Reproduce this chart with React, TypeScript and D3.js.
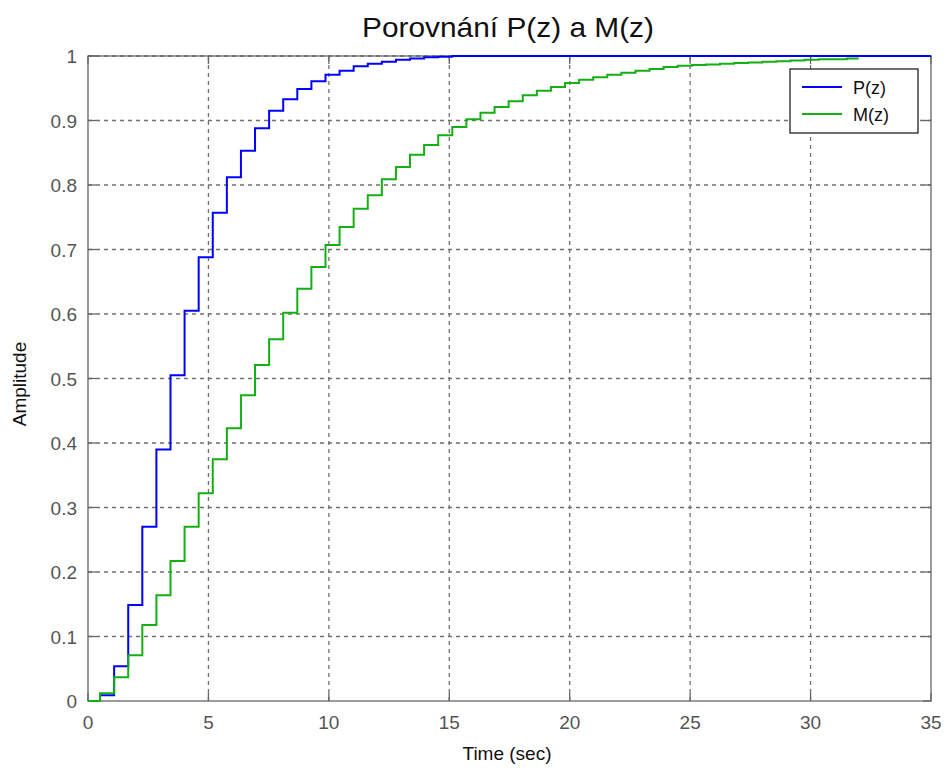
import React from "react";
import * as d3 from "d3";

const TITLE = "Porovnání P(z) a M(z)";
const X_LABEL = "Time (sec)";
const Y_LABEL = "Amplitude";
const X_TICKS = [0, 5, 10, 15, 20, 25, 30, 35];
const Y_TICKS = [0, 0.1, 0.2, 0.3, 0.4, 0.5, 0.6, 0.7, 0.8, 0.9, 1];

// sample timing of the discrete responses
const T_START = 0.5;
const T_STEP = 0.585;

const P_VALUES = [
  0, 0.009, 0.054, 0.149, 0.27, 0.39, 0.505, 0.605, 0.688, 0.757, 0.812, 0.853,
  0.888, 0.915, 0.933, 0.949, 0.961, 0.971, 0.977, 0.984, 0.988, 0.991, 0.994,
  0.996, 0.998, 0.999, 1.0,
];
const P_END = 35;

const M_VALUES = [
  0, 0.012, 0.037, 0.071, 0.118, 0.164, 0.217, 0.27, 0.322, 0.375, 0.423, 0.474,
  0.521, 0.561, 0.602, 0.639, 0.673, 0.707, 0.735, 0.763, 0.784, 0.809, 0.828,
  0.847, 0.862, 0.877, 0.89, 0.902, 0.912, 0.921, 0.93, 0.939, 0.946, 0.952,
  0.958, 0.963, 0.967, 0.971, 0.974, 0.977, 0.98, 0.983, 0.985, 0.986, 0.987,
  0.988, 0.989, 0.99, 0.991, 0.992, 0.993, 0.994, 0.995, 0.995, 0.996,
];
const M_END = 32;

const SERIES = [
  { name: "P(z)", values: P_VALUES, end: P_END, color: "#0000ff" },
  { name: "M(z)", values: M_VALUES, end: M_END, color: "#12b012" },
];

const W = 946;
const H = 769;
const L = 88;
const R = 931;
const T = 56;
const B = 701;
const FONT = "'Liberation Sans', Arial, sans-serif";

function stepPoints(values: number[], end: number): [number, number][] {
  const pts: [number, number][] = [[0, values[0]]];
  for (let k = 1; k < values.length; k++) {
    const t = T_START + (k - 1) * T_STEP;
    if (t > end) break;
    pts.push([t, values[k]]);
  }
  pts.push([end, values[values.length - 1]]);
  return pts;
}

export default function App() {
  const x = d3.scaleLinear().domain([0, 35]).range([L, R]);
  const y = d3.scaleLinear().domain([0, 1]).range([B, T]);
  const line = d3
    .line<[number, number]>()
    .x((d) => x(d[0]))
    .y((d) => y(d[1]))
    .curve(d3.curveStepAfter);

  const fmtY = (v: number) => (v === 0 || v === 1 ? String(v) : d3.format(".1f")(v));

  return (
    <svg
      width={W}
      height={H}
      style={{ position: "absolute", left: 0, top: 0, background: "#fff" }}
      fontFamily={FONT}
    >
      <rect x={0} y={0} width={W} height={H} fill="#fff" />
      <rect x={L} y={T} width={R - L} height={B - T} fill="#fff" />
      <defs>
        <clipPath id="plotclip">
          <rect x={L} y={T - 2} width={R - L} height={B - T + 4} />
        </clipPath>
      </defs>
      {/* grid */}
      <g stroke="#707070" strokeWidth={1.3} strokeDasharray="4,4">
        {X_TICKS.slice(1, -1).map((t) => (
          <line key={"gx" + t} x1={x(t)} x2={x(t)} y1={B} y2={T} />
        ))}
        {Y_TICKS.slice(1).map((t) => (
          <line key={"gy" + t} x1={L} x2={R} y1={y(t)} y2={y(t)} />
        ))}
      </g>
      {/* frame */}
      <rect x={L} y={T} width={R - L} height={B - T} fill="none" stroke="#666" strokeWidth={1.3} />
      {/* ticks */}
      <g stroke="#666" strokeWidth={1.3}>
        {X_TICKS.map((t) => (
          <g key={"tx" + t}>
            <line x1={x(t)} x2={x(t)} y1={B} y2={B - 8} />
            <line x1={x(t)} x2={x(t)} y1={T} y2={T + 8} />
          </g>
        ))}
        {Y_TICKS.map((t) => (
          <g key={"ty" + t}>
            <line x1={L} x2={L + 8} y1={y(t)} y2={y(t)} />
            <line x1={R} x2={R - 8} y1={y(t)} y2={y(t)} />
          </g>
        ))}
      </g>
      {/* tick labels */}
      <g fontSize={19} fill="#555">
        {X_TICKS.map((t) => (
          <text key={"lx" + t} x={x(t)} y={729} textAnchor="middle">
            {t}
          </text>
        ))}
        {Y_TICKS.map((t) => (
          <text key={"ly" + t} x={L - 11} y={y(t) + 7} textAnchor="end">
            {fmtY(t)}
          </text>
        ))}
      </g>
      {/* series */}
      <g clipPath="url(#plotclip)">
        {SERIES.map((s) => (
          <path
            key={s.name}
            d={line(stepPoints(s.values, s.end)) || ""}
            fill="none"
            stroke={s.color}
            strokeWidth={2}
          />
        ))}
      </g>
      {/* title and labels */}
      <text
        x={508}
        y={37}
        textAnchor="middle"
        fontSize={28}
        fill="#111"
        textLength={292}
        lengthAdjust="spacingAndGlyphs"
      >
        {TITLE}
      </text>
      <text x={507} y={760} textAnchor="middle" fontSize={19} fill="#111">
        {X_LABEL}
      </text>
      <text
        transform={`translate(26, 384) rotate(-90)`}
        textAnchor="middle"
        fontSize={19}
        fill="#111"
      >
        {Y_LABEL}
      </text>
      {/* legend */}
      <g>
        <rect x={790} y={69} width={128} height={64} fill="#fff" stroke="#222" strokeWidth={1.3} />
        {SERIES.map((s, i) => (
          <g key={"leg" + s.name}>
            <line x1={802} x2={842} y1={87 + i * 27} y2={87 + i * 27} stroke={s.color} strokeWidth={2} />
            <text x={853} y={94 + i * 27} fontSize={18} fill="#111">
              {s.name}
            </text>
          </g>
        ))}
      </g>
    </svg>
  );
}
